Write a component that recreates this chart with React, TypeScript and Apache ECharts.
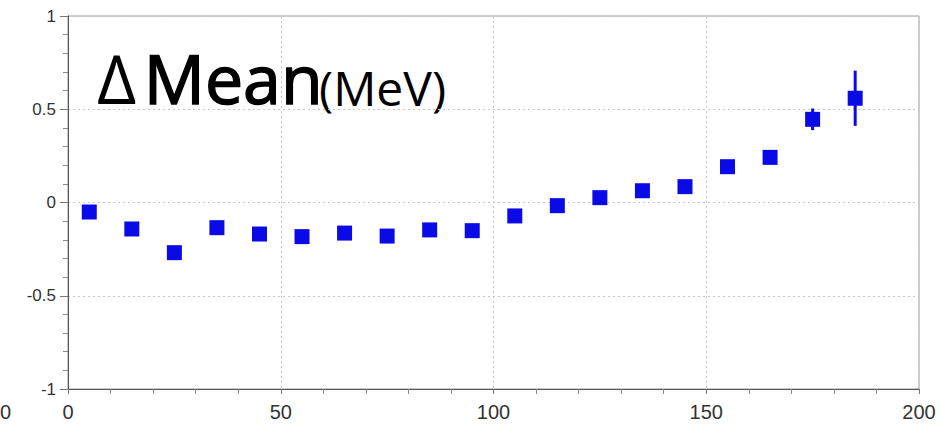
import React, { useEffect, useRef } from 'react';
import * as echarts from 'echarts';

const xValues = [5, 15, 25, 35, 45, 55, 65, 75, 85, 95, 105, 115, 125, 135, 145, 155, 165, 175, 185];
const meanValues = [-0.051, -0.142, -0.269, -0.135, -0.169, -0.183, -0.164, -0.180, -0.147, -0.151, -0.072, -0.017, 0.026, 0.063, 0.085, 0.192, 0.242, 0.446, 0.559];
const errValues = [0.02, 0.02, 0.02, 0.02, 0.02, 0.02, 0.02, 0.02, 0.02, 0.02, 0.02, 0.02, 0.02, 0.02, 0.02, 0.025, 0.03, 0.058, 0.148];
const titleDelta = 'Δ';
const titleMain = 'Mean';
const titleUnit = '(MeV)';

const BLUE = '#0a0ae6';

export default function App() {
  const ref = useRef<HTMLDivElement>(null);
  useEffect(() => {
    if (!ref.current) return;
    const chart = echarts.init(ref.current, null, { renderer: 'svg' });
    const pts = xValues.map((x, i) => [x, meanValues[i], errValues[i]]);
    chart.setOption({
      animation: false,
      backgroundColor: '#fff',
      grid: { left: 68, right: 28, top: 16, bottom: 35, show: true, borderColor: '#9a9a9a', borderWidth: 1 },
      xAxis: {
        type: 'value', min: 0, max: 200, interval: 50,
        axisLine: { show: true, onZero: false, lineStyle: { color: '#555', width: 1 } },
        axisTick: { show: true, length: 5, lineStyle: { color: '#777' } },
        minorTick: { show: true, splitNumber: 5, length: 5, lineStyle: { color: '#888' } },
        splitLine: { show: true, lineStyle: { color: '#c8c8c8', type: [2, 3] } },
        axisLabel: { color: '#333', fontSize: 20, fontFamily: 'Liberation Sans', margin: 13 },
      },
      yAxis: {
        type: 'value', min: -1, max: 1, interval: 0.5,
        axisLine: { show: true, onZero: false, lineStyle: { color: '#555', width: 1 } },
        axisTick: { show: true, length: 8, lineStyle: { color: '#777' } },
        minorTick: { show: true, splitNumber: 5, length: 5, lineStyle: { color: '#888' } },
        splitLine: { show: true, lineStyle: { color: '#c8c8c8', type: [2, 3] } },
        axisLabel: { color: '#333', fontSize: 17, fontFamily: 'Liberation Sans', margin: 12 },
      },
      graphic: [
        { type: 'text', left: 97, top: 43, style: { text: titleDelta, font: '68px "Open Sans"', fill: '#000' } },
        { type: 'text', left: 143, top: 43, style: { text: titleMain, font: '68px "Open Sans"', fill: '#000', stroke: '#000', lineWidth: 1.5 } },
        { type: 'text', left: 319, top: 63, style: { text: titleUnit, font: '48px "Open Sans"', fill: '#000' } },
        { type: 'text', left: 0, top: 402, style: { text: '0', font: '20px "Liberation Sans"', fill: '#333' } },
      ],
      series: [
        {
          type: 'custom',
          data: pts,
          z: 2,
          renderItem: (params: any, api: any) => {
            const x = api.value(0);
            const y = api.value(1);
            const e = api.value(2);
            const p1 = api.coord([x, y - e]);
            const p2 = api.coord([x, y + e]);
            return {
              type: 'line',
              shape: { x1: p1[0], y1: p1[1], x2: p2[0], y2: p2[1] },
              style: { stroke: BLUE, lineWidth: 3 },
            };
          },
        },
        {
          type: 'scatter',
          data: pts.map((p) => [p[0], p[1]]),
          symbol: 'rect',
          symbolSize: 15,
          itemStyle: { color: BLUE, opacity: 1 },
          z: 3,
        },
      ],
    });
    return () => chart.dispose();
  }, []);
  return <div ref={ref} style={{ position: 'fixed', left: 0, top: 0, width: 947, height: 424 }} />;
}
